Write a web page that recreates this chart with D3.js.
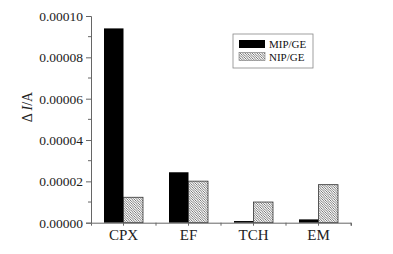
<html>
<head>
<meta charset="utf-8">
<title>bar</title>
<style>
  body { margin: 0; background: #fff; }
  text { font-family: "Liberation Serif", "Times New Roman", serif; }
</style>
</head>
<body>
<script src="https://cdn.jsdelivr.net/npm/d3@7/dist/d3.min.js"></script>
<script>
var categories = ["CPX", "EF", "TCH", "EM"];
var seriesNames = ["MIP/GE", "NIP/GE"];
var mipValues = [0.0000940, 0.0000244, 0.0000008, 0.0000016];
var nipValues = [0.0000123, 0.0000201, 0.0000100, 0.0000184];
var yTicks = [0, 0.00002, 0.00004, 0.00006, 0.00008, 0.0001];

var width = 393, height = 254;
var mLeft = 91, mRight = 351, mTop = 16, mBottom = 222.7;

var svg = d3.select("body").append("svg")
    .attr("width", width)
    .attr("height", height);

// 斜线填充
var defs = svg.append("defs");
var pat = defs.append("pattern")
    .attr("id", "hatch")
    .attr("patternUnits", "userSpaceOnUse")
    .attr("width", 2.4).attr("height", 2.4);
pat.append("rect").attr("width", 2.4).attr("height", 2.4).attr("fill", "#fff");
pat.append("path")
    .attr("d", "M0,0L2.4,2.4M-1.2,1.2L1.2,3.6M1.2,-1.2L3.6,1.2")
    .attr("stroke", "#555").attr("stroke-width", 0.8);

var x = d3.scaleBand().domain(categories).range([mLeft, mRight]).paddingInner(0).paddingOuter(0);
var x1 = d3.scaleBand().domain(seriesNames).range([x.bandwidth() * 0.2, x.bandwidth() * 0.8]);
var y = d3.scaleLinear().domain([0, 0.0001]).range([mBottom, mTop]);

var data = categories.map(function (c, i) {
    return { cat: c, vals: [mipValues[i], nipValues[i]] };
});

var groups = svg.selectAll("g.grp")
    .data(data)
    .enter().append("g")
    .attr("class", "grp")
    .attr("transform", function (d) { return "translate(" + x(d.cat) + ",0)"; });

groups.selectAll("rect")
    .data(function (d) { return d.vals.map(function (v, j) { return { s: seriesNames[j], v: v }; }); })
    .enter().append("rect")
    .attr("x", function (d) { return x1(d.s); })
    .attr("width", x1.bandwidth())
    .attr("y", function (d) { return y(d.v); })
    .attr("height", function (d) { return mBottom - y(d.v); })
    .attr("fill", function (d) { return d.s === "MIP/GE" ? "#000" : "url(#hatch)"; })
    .attr("stroke", function (d) { return d.s === "MIP/GE" ? "none" : "#333"; })
    .attr("stroke-width", 0.8);

// y轴
var yAxis = d3.axisLeft(y).tickValues(yTicks).tickSize(5).tickPadding(3)
    .tickFormat(d3.format(".5f"));
var gy = svg.append("g").attr("transform", "translate(" + mLeft + ",0)").call(yAxis);
gy.select(".domain").attr("stroke", "#666");
gy.selectAll(".tick line").attr("stroke", "#666");
gy.selectAll(".tick text").attr("font-size", 13.5).attr("fill", "#222")
    .attr("font-family", "Liberation Serif, serif");
// 次刻度
var minor = d3.range(0.00001, 0.0001, 0.00002);
gy.selectAll(".minor").data(minor).enter().append("line")
    .attr("x1", 0).attr("x2", -3)
    .attr("y1", function (d) { return y(d); }).attr("y2", function (d) { return y(d); })
    .attr("stroke", "#666");

// x轴
var xAxis = d3.axisBottom(x).tickSize(3).tickPadding(4);
var gx = svg.append("g").attr("transform", "translate(0," + mBottom + ")").call(xAxis);
gx.select(".domain").attr("stroke", "#666");
gx.selectAll(".tick line").attr("stroke", "#666");
gx.selectAll(".tick text").attr("font-size", 15).attr("fill", "#222")
    .attr("font-family", "Liberation Serif, serif");
// 类别分界刻度
gx.selectAll(".sep").data(categories.slice(1).concat([null])).enter().append("line")
    .attr("x1", function (d) { return d ? x(d) : mRight; })
    .attr("x2", function (d) { return d ? x(d) : mRight; })
    .attr("y1", 0).attr("y2", 3)
    .attr("stroke", "#666");

// y轴标题
var yl = svg.append("text")
    .attr("transform", "translate(32,107) rotate(-90)")
    .attr("text-anchor", "middle")
    .attr("font-size", 14)
    .attr("fill", "#222");
yl.append("tspan").text("\u0394 ");
yl.append("tspan").attr("font-style", "italic").text("I");
yl.append("tspan").text("/A");

// 图例
var lg = svg.append("g").attr("transform", "translate(233,34)");
lg.append("rect").attr("width", 80).attr("height", 34)
    .attr("fill", "#fff").attr("stroke", "#888").attr("stroke-width", 0.8);
seriesNames.forEach(function (s, i) {
    lg.append("rect")
        .attr("x", 6).attr("y", 6 + i * 12.5)
        .attr("width", 26).attr("height", 8)
        .attr("fill", i === 0 ? "#000" : "url(#hatch)")
        .attr("stroke", i === 0 ? "none" : "#777").attr("stroke-width", 0.6);
    lg.append("text")
        .attr("x", 36).attr("y", 14 + i * 12.5)
        .attr("font-size", 11).attr("fill", "#111")
        .text(s);
});
</script>
</body>
</html>
